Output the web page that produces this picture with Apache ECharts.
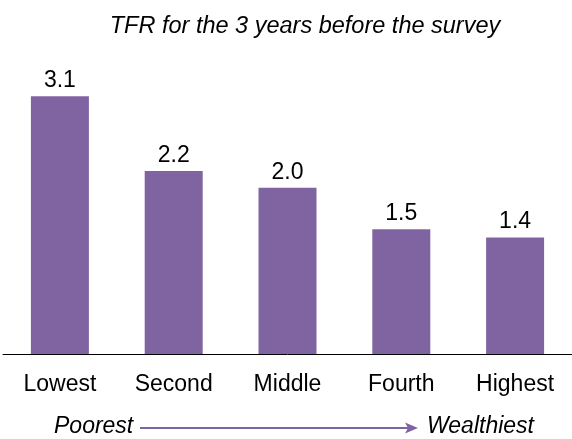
<!DOCTYPE html>
<html><head><meta charset="utf-8">
<script src="https://cdn.jsdelivr.net/npm/echarts@6/dist/echarts.min.js"></script>
<style>html,body{margin:0;padding:0;background:#fff}#c{width:572px;height:439px}</style>
</head><body><div id="c"></div>
<script>
const categories = ["Lowest", "Second", "Middle", "Fourth", "Highest"];
const tfrValues = [3.1, 2.2, 2.0, 1.5, 1.4];
const titleText = "TFR for the 3 years before the survey";
const leftNote = "Poorest";
const rightNote = "Wealthiest";

const chart = echarts.init(document.getElementById('c'), null, {renderer: 'canvas'});
const font = '"Liberation Sans", Arial, sans-serif';
const purple = '#8064A2';
chart.setOption({
  animation: false,
  backgroundColor: '#fff',
  title: {
    text: titleText, left: 305, top: 15, textAlign: 'center', padding: 0,
    textStyle: {fontFamily: font, fontStyle: 'italic', fontWeight: 'normal', fontSize: 23.5, color: '#000'}
  },
  grid: {left: 3, width: 575, top: 63, height: 291, containLabel: false},
  xAxis: {
    type: 'category', data: categories,
    axisLine: {show: true, lineStyle: {color: '#000', width: 1}},
    axisTick: {show: false},
    axisLabel: {fontFamily: font, fontSize: 23, color: '#000', margin: 19}
  },
  yAxis: {
    type: 'value', min: 0, max: 3.5, show: false,
    splitLine: {show: false}
  },
  series: [{
    type: 'bar', data: tfrValues, barWidth: 58,
    itemStyle: {color: purple},
    label: {show: true, position: 'top', distance: 4, fontFamily: font, fontSize: 23, color: '#000',
      formatter: p => p.value.toFixed(1)}
  }],
  graphic: [
    {type: 'text', left: 54, top: 415, style: {text: leftNote, font: 'italic 23px ' + font, fill: '#000'}},
    {type: 'line', shape: {x1: 140, y1: 428, x2: 410, y2: 428}, style: {stroke: purple, lineWidth: 2}},
    {type: 'polygon', shape: {points: [[405, 422.5], [418, 428], [405, 433.5], [408, 428]]}, style: {fill: purple}},
    {type: 'text', left: 427, top: 415, style: {text: rightNote, font: 'italic 23px ' + font, fill: '#000'}}
  ]
});
</script></body></html>
